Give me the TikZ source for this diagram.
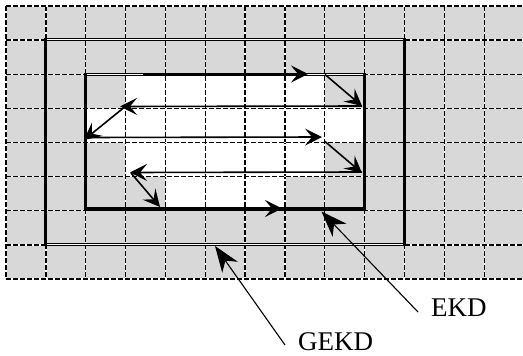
\documentclass[tikz,border=0pt]{standalone}
\usepackage{fontspec}
\setmainfont{Liberation Serif}
\usetikzlibrary{arrows.meta}
\definecolor{cellgray}{RGB}{216,216,216}

\begin{document}
\begin{tikzpicture}[x=1pt,y=-1pt,
  gridunder/.style={white, line width=1.3pt},
  gridline/.style={black, line width=1.3pt, dash pattern=on 5pt off 2pt},
  edgethick/.style={line width=3.2pt, line cap=rect},
  edgedouble/.style={draw=black, double=white, line width=0.8pt, double distance=1.1pt},
  flow/.style={line width=1.6pt, -{Stealth[length=17pt,width=17pt,inset=7pt]}},
  callout/.style={line width=1.1pt, -{Stealth[length=26pt,width=19pt,inset=8pt]}},
  lbl/.style={font=\fontsize{27}{27}\selectfont, inner sep=0pt, anchor=base west}
]
\useasboundingbox (0,0) rectangle (523,356);
\clip (0,0) rectangle (523,356);

% grey field
\fill[cellgray] (6,6) rectangle (524.05,279);

% white scan band inside the inner frame
\fill[white] (125.55,74.25) rectangle (324.8,108.4);
\fill[white] (85.7,108.4) rectangle (364.65,142.5);
\fill[white] (125.55,142.5) rectangle (324.8,176.6);
\fill[white] (165.4,176.6) rectangle (284.95,209.5);

% dashed cell grid
\foreach \i in {0,...,13} {
  \draw[gridunder] ({6+39.85*\i},6) -- ({6+39.85*\i},279);
  \draw[gridline]  ({6+39.85*\i},6) -- ({6+39.85*\i},279);
}
\foreach \j in {0,...,8} {
  \draw[gridunder] (6,{6+34.125*\j}) -- (524.05,{6+34.125*\j});
  \draw[gridline]  (6,{6+34.125*\j}) -- (524.05,{6+34.125*\j});
}

% outer frame (GEKD)
\coordinate (oTL) at (45.85,39.5);
\coordinate (oTR) at (404.5,39.5);
\coordinate (oBL) at (45.85,244.5);
\coordinate (oBR) at (404.5,244.5);
\draw[edgedouble] (oTL) -- (oTR);
\draw[edgedouble] (oBL) -- (oBR);
\draw[edgethick] (oTL) -- (oBL);
\draw[edgethick] (oTR) -- (oBR);

% inner frame (EKD)
\coordinate (iTL) at (85.7,74.25);
\coordinate (iTR) at (364.65,74.25);
\coordinate (iBL) at (85.7,209);
\coordinate (iBR) at (364.65,209);
\draw[edgedouble] (iTL) -- (iTR);
\draw[edgethick] (iTL) -- (iBL) -- (iBR) -- (iTR);

% zig-zag scan path
\coordinate (a1) at (143,74);
\coordinate (a2) at (308,74);
\coordinate (b1) at (325,74.5);
\coordinate (b2) at (362,106);
\coordinate (c1) at (362,106);
\coordinate (c2) at (120,106.5);
\coordinate (d1) at (124,107.5);
\coordinate (d2) at (84,140);
\coordinate (e1) at (86,137.5);
\coordinate (e2) at (322,137);
\coordinate (f1) at (325,141.5);
\coordinate (f2) at (362,173);
\coordinate (g1) at (362,172);
\coordinate (g2) at (130,172.5);
\coordinate (h1) at (131,173);
\coordinate (h2) at (160,207);
\coordinate (k1) at (160,208.5);
\coordinate (k2) at (282,208.5);

\draw[flow] (a1) -- (a2);
\draw[flow] (b1) -- (b2);
\draw[flow] (c1) -- (c2);
\draw[flow] (d1) -- (d2);
\draw[flow] (e1) -- (e2);
\draw[flow] (f1) -- (f2);
\draw[flow] (g1) -- (g2);
\draw[flow] (h1) -- (h2);
\draw[flow, line width=3pt] (k1) -- (k2);

% labels and their pointers
\node[lbl] (ekd) at (431,316.5) {EKD};
\node[lbl] (gekd) at (298,350) {GEKD};
\coordinate (ekdfoot) at (418,312);
\coordinate (ekdtip) at (321.5,211.5);
\coordinate (gekdfoot) at (285,345);
\coordinate (gekdtip) at (215,246);
\draw[callout] (ekdfoot) -- (ekdtip);
\draw[callout] (gekdfoot) -- (gekdtip);
\end{tikzpicture}
\end{document}
